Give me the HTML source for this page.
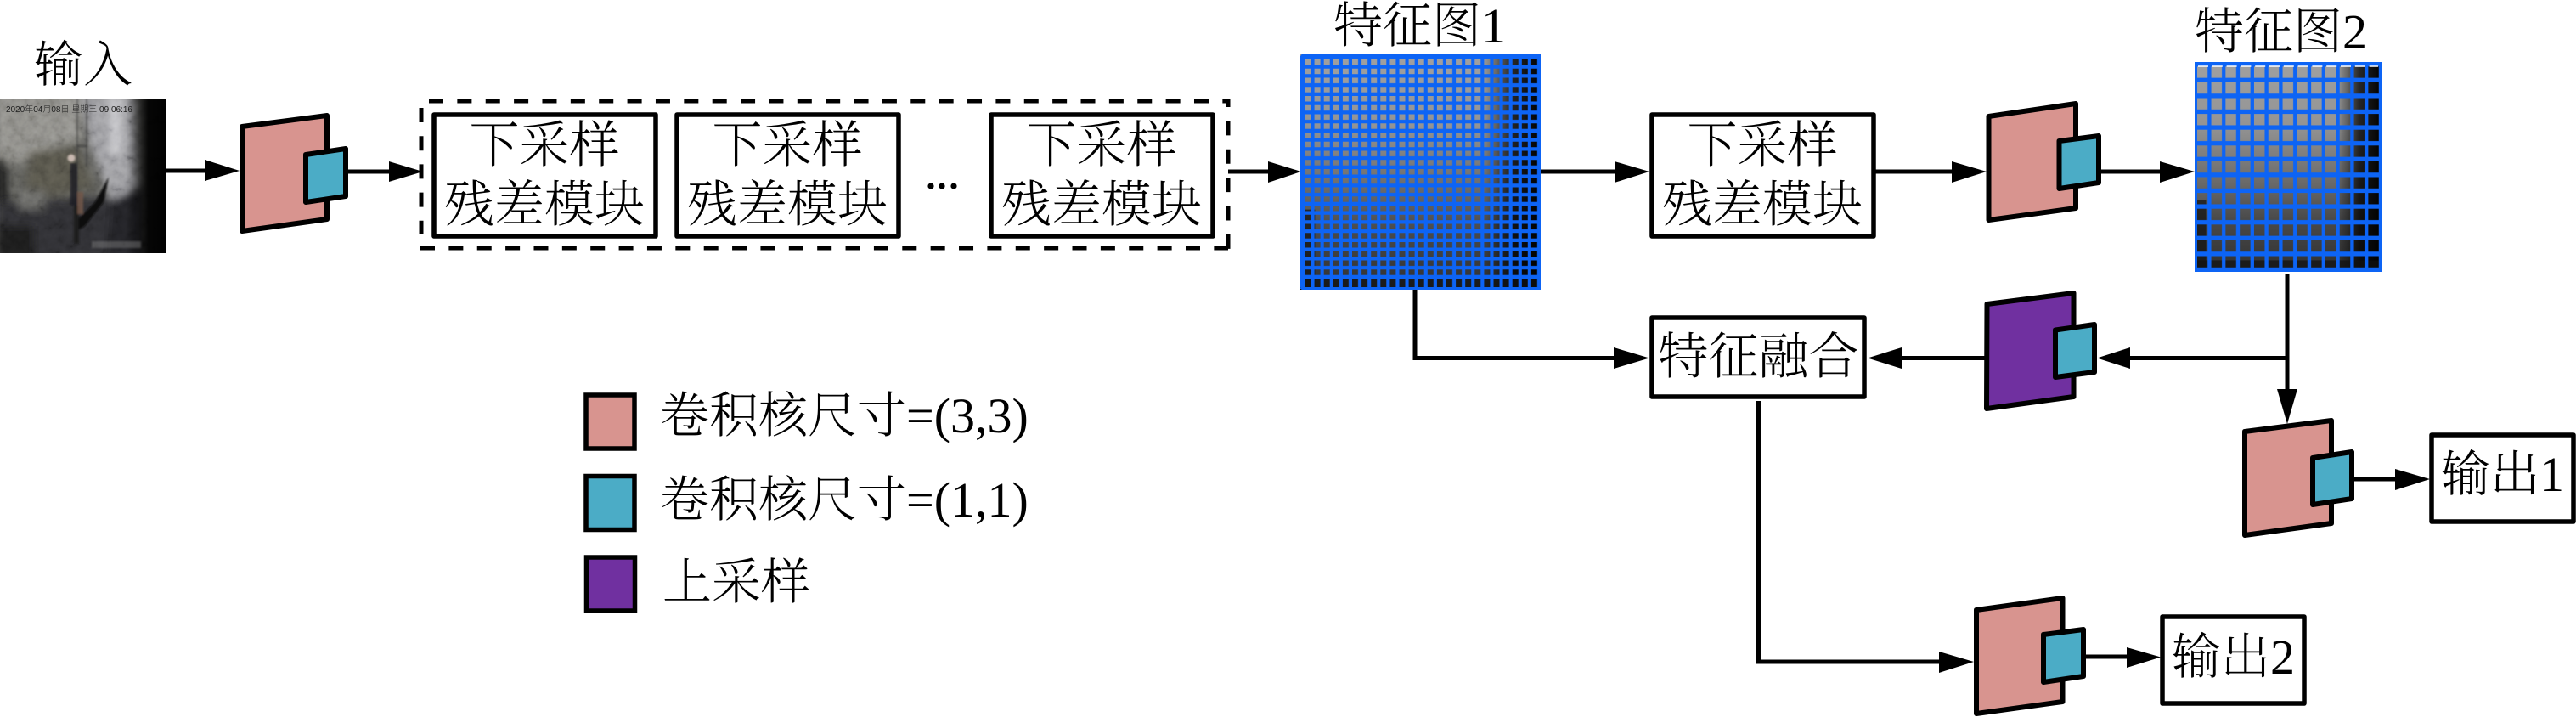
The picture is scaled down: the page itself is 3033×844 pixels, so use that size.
<!DOCTYPE html>
<html lang="zh">
<head>
<meta charset="utf-8">
<title>网络结构图</title>
<style>
html,body{margin:0;padding:0;background:#fff;}
body{width:3033px;height:844px;overflow:hidden;}
svg{display:block;}
text{font-family:"Liberation Serif","Noto Serif CJK SC",serif;font-size:58px;font-weight:300;fill:#000;}
.k{font-size:59px;}
.m{text-anchor:middle;}
.b{fill:#fff;stroke:#000;stroke-width:5.5;stroke-linejoin:round;}
.l{fill:none;stroke:#000;stroke-width:5;}
.p{fill:#D8948F;stroke:#000;stroke-width:6;stroke-linejoin:round;}
.t{fill:#4BACC6;stroke:#000;stroke-width:6;stroke-linejoin:round;}
.u{fill:#7030A0;stroke:#000;stroke-width:6;stroke-linejoin:round;}
</style>
</head>
<body>
<svg width="3033" height="844" viewBox="0 0 3033 844" xmlns="http://www.w3.org/2000/svg">
<defs>
  <filter id="bl" x="-10%" y="-10%" width="120%" height="120%"><feGaussianBlur stdDeviation="5"/></filter>
  <filter id="bs" x="-10%" y="-10%" width="120%" height="120%"><feGaussianBlur stdDeviation="1"/></filter>
  <filter id="noise" x="0" y="0" width="100%" height="100%">
    <feTurbulence type="fractalNoise" baseFrequency="0.09" numOctaves="3" seed="7"/>
    <feColorMatrix type="matrix" values="1.6 0 0 0 -0.3  1.6 0 0 0 -0.3  1.6 0 0 0 -0.3  0 0 0 0 1"/>
  </filter>
  <linearGradient id="rk" x1="0" x2="1" y1="0" y2="0">
    <stop offset="0" stop-color="#000" stop-opacity="0"/>
    <stop offset="0.55" stop-color="#000" stop-opacity=".95"/>
    <stop offset="1" stop-color="#000" stop-opacity="1"/>
  </linearGradient>
  <linearGradient id="fv" x1="0" x2="0" y1="0" y2="1">
    <stop offset="0" stop-color="#a0a0a0"/>
    <stop offset="0.3" stop-color="#949494"/>
    <stop offset="0.55" stop-color="#6e6e6e"/>
    <stop offset="0.75" stop-color="#4a4a4a"/>
    <stop offset="1" stop-color="#303030"/>
  </linearGradient>
  <linearGradient id="fh" x1="0" x2="1" y1="0" y2="0">
    <stop offset="0" stop-color="#000" stop-opacity="0"/>
    <stop offset="0.76" stop-color="#000" stop-opacity="0"/>
    <stop offset="0.88" stop-color="#000" stop-opacity=".75"/>
    <stop offset="1" stop-color="#000" stop-opacity="1"/>
  </linearGradient>
  <clipPath id="pc"><rect x="0" y="0" width="196" height="182"/></clipPath>
  <g id="photo">
    <g clip-path="url(#pc)">
      <rect x="0" y="0" width="196" height="182" fill="#5e5e5a"/>
      <g filter="url(#bl)">
        <polygon points="-5,-5 95,-5 95,50 60,58 30,72 -5,85" fill="#8a8984"/>
        <polygon points="95,-5 160,-5 165,120 135,135 120,90 105,50" fill="#9a9a9e"/>
        <rect x="130" y="-5" width="12" height="70" fill="#c8c8cc"/>
        <polygon points="35,62 90,55 110,105 60,115 30,105" fill="#55524a"/>
        <rect x="-5" y="70" width="14" height="60" fill="#1c1c1c"/>
        <polygon points="-5,122 130,115 150,190 -5,190" fill="#2e2e32"/>
        <rect x="22" y="108" width="30" height="22" fill="#666664"/>
        <rect x="-5" y="150" width="45" height="40" fill="#1c1c1e"/>
        <polygon points="130,120 170,100 170,190 125,190" fill="#242426"/>
      </g>
      <rect x="148" y="0" width="48" height="182" fill="url(#rk)"/>
      <g filter="url(#noise)" opacity=".18" style="mix-blend-mode:overlay"><rect x="0" y="0" width="196" height="182"/></g>
      <g filter="url(#bs)">
        <polygon points="128,92 122,122 100,150 90,156 92,142 112,122" fill="#0d0d0d"/>
        <rect x="83" y="76" width="8" height="50" fill="#1c1c20" opacity=".8"/>
        <circle cx="84" cy="70" r="4.5" fill="#c9b9b0"/>
        <rect x="90" y="0" width="2" height="80" fill="#3a3a3a" opacity=".6"/>
        <rect x="101" y="0" width="2" height="80" fill="#3a3a3a" opacity=".6"/>
        <rect x="90" y="55" width="13" height="2" fill="#333" opacity=".7"/>
        <rect x="87" y="126" width="6" height="45" fill="#1c1c1c"/>
        <rect x="91" y="110" width="7" height="26" fill="#74584a" opacity=".8"/>
        <rect x="108" y="168" width="58" height="8" fill="#8c8c8c" opacity=".4"/>
      </g>
    </g>
  </g>
  <g id="fm">
    <rect x="0" y="0" width="196" height="182" fill="url(#fv)"/>
    <rect x="0" y="0" width="196" height="182" fill="url(#fh)"/>
    <rect x="0" y="120" width="12" height="62" fill="#111" opacity=".7"/>
    <rect x="0" y="172" width="196" height="10" fill="#111" opacity=".7"/>
  </g>
  <pattern id="g1" patternUnits="userSpaceOnUse" x="1536.5" y="70" width="11.1" height="10.75">
    <path fill="#0d64f5" fill-rule="evenodd" d="M0 0H11.1V10.75H0ZM0 0H7V6.5H0Z"/>
  </pattern>
  <pattern id="g1b" patternUnits="userSpaceOnUse" x="1536.5" y="328" width="11.1" height="12">
    <path fill="#0d64f5" fill-rule="evenodd" d="M0 0H11.1V12H0ZM0 0H7V11H0Z"/>
  </pattern>
  <pattern id="g2" patternUnits="userSpaceOnUse" x="2586.75" y="78.3" width="16.8" height="18.6">
    <path fill="#0d64f5" fill-rule="evenodd" d="M0 0H16.8V18.6H0ZM0 0H12.5V13.3H0Z"/>
  </pattern>
</defs>

<rect width="3033" height="844" fill="#fff"/>

<!-- input -->
<text x="40" y="96">输入</text>
<g transform="translate(0,116)">
  <use href="#photo"/>
  <text x="7" y="16" style="font-size:10px;fill:#222;font-family:'Liberation Sans','Noto Sans CJK SC',sans-serif">2020年04月08日 星期三 09:06:16</text>
</g>
<line class="l" x1="196" y1="201" x2="245" y2="201"/>
<polygon points="241,188 282,201 241,213"/>
<polygon class="p" points="285,149 385,136 385,258 285,272"/>
<polygon class="t" points="360,182 407,175 407,231 360,238"/>
<line class="l" x1="410" y1="202" x2="462" y2="202"/>
<polygon points="458,190 498,202 458,214"/>

<!-- dashed group -->
<line class="l" x1="505" y1="119" x2="1446" y2="119" stroke-dasharray="17 16.37"/>
<line class="l" x1="495" y1="292" x2="1446" y2="292" stroke-dasharray="17 16.37"/>
<line class="l" x1="496" y1="127" x2="496" y2="276" stroke-dasharray="17 16.2"/>
<line class="l" x1="1446" y1="117" x2="1446" y2="294" stroke-dasharray="17 16.37" stroke-dashoffset="8"/>

<rect class="b" x="511" y="135" width="261" height="143"/>
<text class="m k" x="641" y="191">下采样</text>
<text class="m k" x="641" y="261">残差模块</text>
<rect class="b" x="797" y="135" width="261" height="143"/>
<text class="m k" x="927" y="191">下采样</text>
<text class="m k" x="927" y="261">残差模块</text>
<rect class="b" x="1167" y="135" width="261" height="143"/>
<text class="m k" x="1297" y="191">下采样</text>
<text class="m k" x="1297" y="261">残差模块</text>
<circle cx="1096" cy="219" r="3.6"/><circle cx="1109" cy="219" r="3.6"/><circle cx="1123" cy="219" r="3.6"/>

<line class="l" x1="1446" y1="202" x2="1497" y2="202"/>
<polygon points="1493,190 1532,202 1493,215"/>

<!-- feature map 1 -->
<text x="1570" y="50">特征图1</text>
<svg x="1531" y="64" width="283" height="277" viewBox="0 0 196 182" preserveAspectRatio="none"><use href="#fm"/></svg>
<rect x="1531" y="64" width="283" height="264" fill="url(#g1)"/>
<rect x="1531" y="328" width="283" height="13" fill="url(#g1b)"/>
<rect x="1532.5" y="65.5" width="280" height="274" rx="2" fill="none" stroke="#0d64f5" stroke-width="3"/>

<line class="l" x1="1814" y1="202" x2="1905" y2="202"/>
<polygon points="1901,190 1942,202 1901,215"/>
<rect class="b" x="1945" y="135" width="261" height="143"/>
<text class="m k" x="2075" y="191">下采样</text>
<text class="m k" x="2075" y="261">残差模块</text>
<line class="l" x1="2208" y1="202" x2="2302" y2="202"/>
<polygon points="2298,190 2339,202 2298,215"/>
<polygon class="p" points="2341.5,137 2444,122 2444,245 2341.5,259"/>
<polygon class="t" points="2424.5,166 2471,160 2471,215 2424.5,222"/>
<line class="l" x1="2473" y1="202" x2="2547" y2="202"/>
<polygon points="2543,190 2584,202 2543,215"/>

<!-- feature map 2 -->
<text x="2584" y="57">特征图2</text>
<svg x="2584" y="73" width="220" height="247" viewBox="0 0 196 182" preserveAspectRatio="none"><use href="#fm"/></svg>
<rect x="2584" y="73" width="220" height="247" fill="url(#g2)"/>
<rect x="2585.5" y="74.5" width="217" height="244" rx="2" fill="none" stroke="#0d64f5" stroke-width="3"/>
<line x1="2588" y1="78" x2="2800" y2="78" stroke="#fff" stroke-width="1.5" stroke-dasharray="12 4.8"/>

<!-- connections FM2 -> up-sample, output 1 -->
<line class="l" x1="2693" y1="323" x2="2693" y2="462"/>
<polygon points="2681,458 2705,458 2693,499"/>
<line class="l" x1="2695" y1="421.5" x2="2505" y2="421.5"/>
<polygon points="2508,409 2469,421.5 2508,434"/>
<polygon class="u" points="2339.5,358 2441.5,345 2441.5,467 2339,481"/>
<polygon class="t" points="2420,388.5 2466,382 2466,438 2420,444"/>
<line class="l" x1="2337" y1="421.5" x2="2235" y2="421.5"/>
<polygon points="2239,409 2199,421.5 2239,434"/>

<!-- feature fusion -->
<rect class="b" x="1945" y="374" width="250" height="93"/>
<text class="m k" x="2070.5" y="440">特征融合</text>
<polyline class="l" points="1666,341 1666,421.5 1905,421.5"/>
<polygon points="1900,409 1942,421.5 1900,434"/>

<!-- output 2 path -->
<polyline class="l" points="2070.5,472 2070.5,779 2287,779"/>
<polygon points="2283,767 2324,779 2283,792"/>
<polygon class="p" points="2327,718 2428.5,704 2428.5,826 2327,840"/>
<polygon class="t" points="2406,747 2453,741 2453,796 2406,803"/>
<line class="l" x1="2456" y1="773" x2="2508" y2="773"/>
<polygon points="2504,762 2544,773.5 2504,786"/>
<rect class="b" x="2546" y="726" width="167" height="102"/>
<text x="2557" y="793">输出2</text>

<!-- output 1 -->
<polygon class="p" points="2643,508 2745,495 2745,616 2643,630"/>
<polygon class="t" points="2723,539 2769,532 2769,587 2723,594"/>
<line class="l" x1="2772" y1="564" x2="2824" y2="564"/>
<polygon points="2820,552 2861,564 2820,577"/>
<rect class="b" x="2863" y="512" width="167" height="102"/>
<text x="2874" y="578">输出1</text>

<!-- legend -->
<rect x="690" y="465" width="57" height="63" fill="#D8948F" stroke="#000" stroke-width="5.5"/>
<rect x="690" y="560.5" width="57" height="63" fill="#4BACC6" stroke="#000" stroke-width="5.5"/>
<rect x="690.5" y="656" width="57" height="63" fill="#7030A0" stroke="#000" stroke-width="5.5"/>
<text x="777" y="509">卷积核尺寸=(3,3)</text>
<text x="777" y="608">卷积核尺寸=(1,1)</text>
<text x="780" y="705">上采样</text>
</svg>
</body>
</html>
